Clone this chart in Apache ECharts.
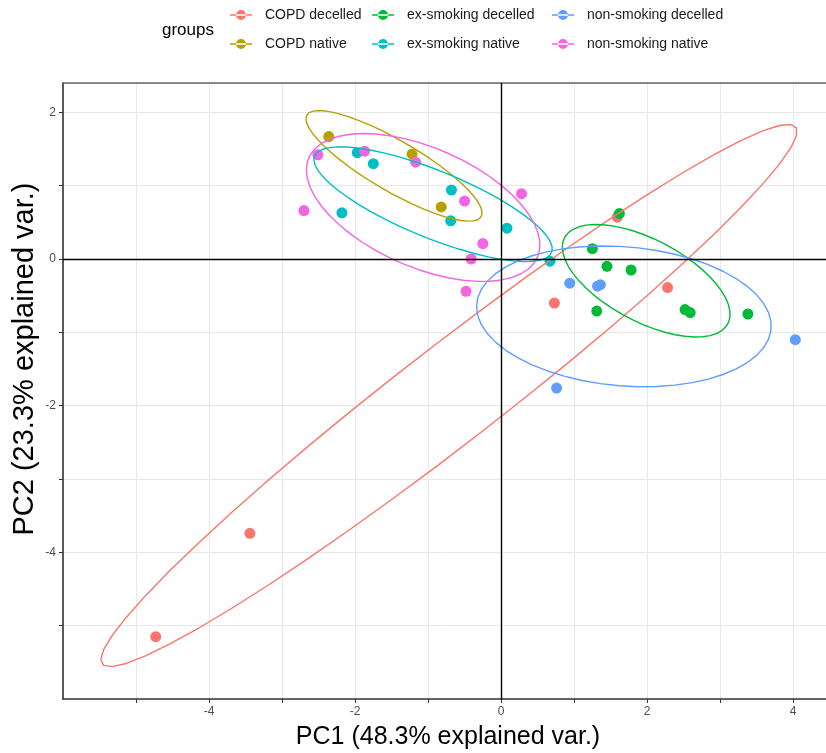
<!DOCTYPE html>
<html>
<head>
<meta charset="utf-8">
<script src="https://cdn.jsdelivr.net/npm/echarts@6/dist/echarts.min.js"></script>
<style>
  html, body { margin: 0; padding: 0; background: #fff; }
  #chart { width: 826px; height: 753px; }
</style>
</head>
<body>
<div id="chart"></div>
<script>
// PCA scores, [PC1, PC2] per sample
const copdDecelled = [[1.59, 0.57], [2.28, -0.39], [0.73, -0.60], [-3.44, -3.74], [-4.73, -5.15]]
const copdNative = [[-2.36, 1.67], [-1.22, 1.43], [-0.82, 0.71]]
const exDecelled = [[1.62, 0.62], [1.25, 0.14], [1.45, -0.10], [1.78, -0.15], [1.31, -0.71], [2.52, -0.69], [2.59, -0.73], [3.38, -0.75]]
const exNative = [[-1.97, 1.45], [-1.75, 1.30], [-0.68, 0.94], [-0.69, 0.52], [-2.18, 0.63], [0.08, 0.42], [0.67, -0.03]]
const nonDecelled = [[0.94, -0.33], [1.32, -0.37], [1.36, -0.35], [4.03, -1.10], [0.76, -1.76]]
const nonNative = [[-2.51, 1.42], [-1.87, 1.47], [-1.17, 1.32], [-2.70, 0.66], [-0.50, 0.79], [0.28, 0.89], [-0.25, 0.21], [-0.41, 0.00], [-0.48, -0.44]]

const groupNames = ["COPD decelled", "COPD native", "ex-smoking decelled", "ex-smoking native", "non-smoking decelled", "non-smoking native"]
const groupData = [copdDecelled, copdNative, exDecelled, exNative, nonDecelled, nonNative]
const colors = ["#F8766D", "#B79F00", "#00BA38", "#00BFC4", "#619CFF", "#F564E3"]

const font = "Liberation Sans, Arial, sans-serif"

// normal data ellipse, prob 0.68, like ggbiplot
function ellipse(pts) {
  const n = pts.length
  const mx = pts.reduce((s, p) => s + p[0], 0) / n
  const my = pts.reduce((s, p) => s + p[1], 0) / n
  let sxx = 0, syy = 0, sxy = 0
  pts.forEach(p => {
    sxx += (p[0] - mx) ** 2
    syy += (p[1] - my) ** 2
    sxy += (p[0] - mx) * (p[1] - my)
  })
  sxx /= n - 1; syy /= n - 1; sxy /= n - 1
  const a = Math.sqrt(sxx)
  const b = sxy / a
  const c = Math.sqrt(Math.max(syy - b * b, 0))
  const r = Math.sqrt(-2 * Math.log(1 - 0.68))
  const out = []
  for (let i = 0; i < 50; i++) {
    const t = -Math.PI + (2 * Math.PI * i) / 49
    out.push([mx + r * Math.cos(t) * a, my + r * (Math.cos(t) * b + Math.sin(t) * c)])
  }
  return out
}

const legendIcon = "path://M0,5.2H22V6.8H0Z M6,6A5,5 0 1,0 16,6A5,5 0 1,0 6,6Z"
const legendBase = {
  orient: "vertical",
  top: 2,
  itemWidth: 22,
  itemHeight: 10,
  itemGap: 13,
  icon: legendIcon,
  textStyle: { fontSize: 14, color: "#1a1a1a", fontFamily: font, lineHeight: 16, padding: [0, 0, 0, 8] },
}

const series = []
groupNames.forEach((name, i) => {
  series.push({
    name: name,
    type: "scatter",
    data: groupData[i],
    symbolSize: 11,
    itemStyle: { color: colors[i], opacity: 1 },
    z: 3,
  })
  series.push({
    name: name,
    type: "line",
    data: ellipse(groupData[i]),
    showSymbol: false,
    symbol: "none",
    lineStyle: { color: colors[i], width: 1.4 },
    itemStyle: { color: colors[i] },
    z: 4,
    silent: true,
  })
})

// zero lines
series.push({
  type: "line",
  data: [],
  z: 2,
  markLine: {
    silent: true,
    symbol: "none",
    label: { show: false },
    lineStyle: { color: "#000", width: 1.4, type: "solid" },
    data: [{ xAxis: 0 }, { yAxis: 0 }],
  },
})

const axisCommon = {
  type: "value",
  interval: 1,
  axisLine: { show: true, onZero: false, lineStyle: { color: "#333", width: 1.6 } },
  axisTick: { show: true, length: 4, lineStyle: { color: "#333" } },
  splitLine: { show: true, lineStyle: { color: "#e8e8e8", width: 1 } },
  axisLabel: {
    color: "#4d4d4d",
    fontSize: 12,
    fontFamily: font,
    margin: 7,
    showMinLabel: false,
    showMaxLabel: false,
    formatter: v => (v % 2 === 0 ? String(v) : ""),
  },
}

const xMin = -6
const xMax = 4.45

const chart = echarts.init(document.getElementById("chart"))
chart.setOption({
  animation: false,
  backgroundColor: "#fff",
  grid: { left: 63, top: 83, right: 0, height: 616 },
  xAxis: [
    Object.assign({}, axisCommon, { min: xMin, max: xMax }),
    {
      type: "value", position: "top", min: xMin, max: xMax,
      axisLine: { show: true, onZero: false, lineStyle: { color: "#666", width: 1.5 } },
      axisTick: { show: false }, axisLabel: { show: false }, splitLine: { show: false },
    },
  ],
  yAxis: Object.assign({}, axisCommon, { min: -6, max: 2.4 }),
  legend: [
    Object.assign({}, legendBase, { left: 225, data: [groupNames[0], groupNames[1]] }),
    Object.assign({}, legendBase, { left: 367, data: [groupNames[2], groupNames[3]] }),
    Object.assign({}, legendBase, { left: 547, data: [groupNames[4], groupNames[5]] }),
  ],
  graphic: [
    { type: "text", left: 162, top: 22, style: { text: "groups", fontSize: 17, fill: "#000", fontFamily: font } },
    {
      type: "text", x: 448, y: 737,
      style: { text: "PC1 (48.3% explained var.)", fontSize: 25, fill: "#000", fontFamily: font, align: "center", verticalAlign: "middle" },
    },
    {
      type: "text", x: 25, y: 359, rotation: Math.PI / 2,
      style: { text: "PC2 (23.3% explained var.)", fontSize: 29, fill: "#000", fontFamily: font, align: "center", verticalAlign: "middle" },
    },
  ],
  series: series,
})
</script>
</body>
</html>
